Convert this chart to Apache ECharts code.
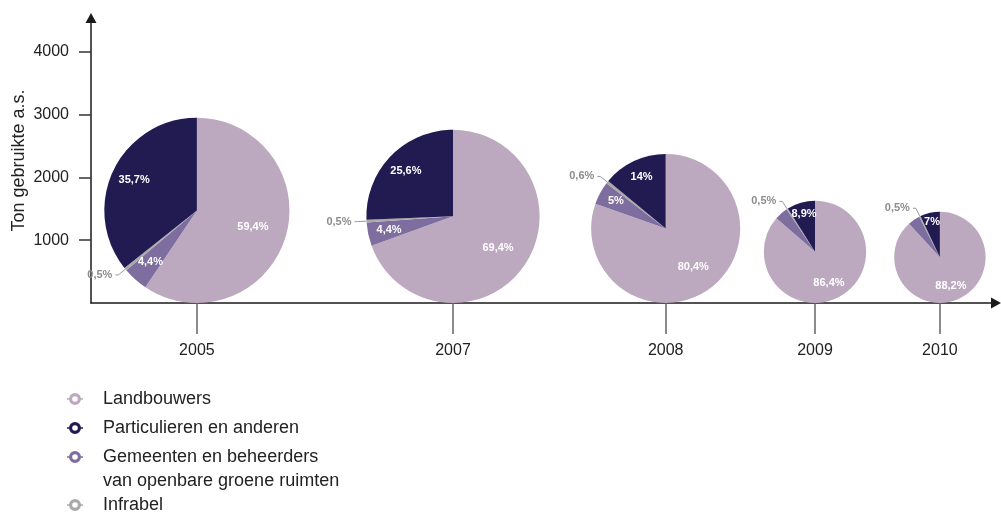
<!DOCTYPE html>
<html>
<head>
<meta charset="utf-8">
<script src="https://cdn.jsdelivr.net/npm/echarts@6/dist/echarts.min.js"></script>
<style>
  html, body { margin: 0; padding: 0; background: #fff; }
  #chart { width: 1001px; height: 517px; }
</style>
</head>
<body>
<div id="chart"></div>
<script>
var years = ['2005', '2007', '2008', '2009', '2010'];
// total tonnage per year = diameter of the pie on the y scale
var totals = [2950, 2760, 2375, 1630, 1455];
// shares in %
var landbouwers = [59.4, 69.4, 80.4, 86.4, 88.2];
var gemeenten = [4.4, 4.4, 5, 4.2, 4.3];
var infrabel = [0.5, 0.5, 0.6, 0.5, 0.5];
var particulieren = [35.7, 25.6, 14, 8.9, 7];
var yTicks = [1000, 2000, 3000, 4000];

var names = ['Landbouwers', 'Particulieren en anderen',
  'Gemeenten en beheerders van openbare groene ruimten', 'Infrabel'];
var colors = ['#bda9bf', '#221b51', '#7e6e9f', '#a9a9a9'];

// where each year sits along the x axis (0..100)
var yearSlot = [11.7, 40, 63.5, 80, 93.8];

var font = "'Liberation Sans', Arial, Helvetica, sans-serif";
var ring = 'path://M2,6 A6,6 0 1,1 14,6 A6,6 0 1,1 2,6 Z M5.2,6 A2.8,2.8 0 1,0 10.8,6 A2.8,2.8 0 1,0 5.2,6 Z M0,5.2 L2.4,5.2 L2.4,6.8 L0,6.8 Z M13.6,5.2 L16,5.2 L16,6.8 L13.6,6.8 Z';

function pct(v) { return String(v).replace('.', ',') + '%'; }

var chart = echarts.init(document.getElementById('chart'));

chart.setOption({
  animation: false,
  textStyle: { fontFamily: font },
  grid: { left: 91, right: 5, top: 18, bottom: 214, containLabel: false, outerBoundsMode: 'none' },
  xAxis: {
    type: 'value', min: 0, max: 100,
    splitLine: { show: false },
    axisLine: { show: true, symbol: ['none', 'triangle'], symbolSize: [11, 10],
      lineStyle: { color: '#1a1a1a', width: 1.5 } },
    axisTick: { show: true, customValues: yearSlot, length: 31,
      lineStyle: { color: '#666', width: 1.5 } },
    axisLabel: {
      customValues: yearSlot, margin: 40, fontSize: 16, color: '#222',
      formatter: function (v) {
        for (var k = 0; k < yearSlot.length; k++) {
          if (Math.abs(yearSlot[k] - v) < 1e-6) return years[k];
        }
        return '';
      }
    }
  },
  yAxis: {
    type: 'value', min: 0, max: 4540,
    splitLine: { show: false },
    axisLine: { show: true, symbol: ['none', 'triangle'], symbolSize: [11, 10],
      lineStyle: { color: '#1a1a1a', width: 1.5 } },
    axisTick: { show: true, customValues: yTicks, length: 12,
      lineStyle: { color: '#333', width: 1.5 } },
    axisLabel: { customValues: yTicks, margin: 22, fontSize: 16, color: '#222',
      formatter: function (v) { return String(v); } },
    name: 'Ton gebruikte a.s.', nameLocation: 'middle', nameRotate: 90, nameGap: 63,
    nameMoveOverlap: false,
    nameTextStyle: { fontSize: 18, color: '#222' }
  }
});

function legendItem(k) {
  return { name: names[k], icon: ring, itemStyle: { color: colors[k], borderWidth: 0 } };
}
var legendBase = {
  orient: 'vertical', left: 62, itemWidth: 16, itemHeight: 12, itemGap: 9,
  selectedMode: false,
  textStyle: { fontSize: 18, lineHeight: 20, color: '#222', padding: [0, 0, 0, 15] },
  formatter: function (n) { return n === names[2] ? 'Gemeenten en beheerders' : n; }
};

var slices = [];
var labels = [];
years.forEach(function (y, i) {
  var c = chart.convertToPixel({ gridIndex: 0 }, [yearSlot[i], totals[i] / 2]);
  var r = chart.convertToPixel({ yAxisIndex: 0 }, 0) - chart.convertToPixel({ yAxisIndex: 0 }, totals[i]);
  r = r / 2;
  // clockwise from 12 o'clock: Landbouwers, Gemeenten, Infrabel, Particulieren
  var vals = [[0, landbouwers[i]], [2, gemeenten[i]], [3, infrabel[i]], [1, particulieren[i]]];

  slices.push({
    type: 'pie', id: 'pie' + y, center: c, radius: r,
    startAngle: 90, clockwise: true, avoidLabelOverlap: false, silent: true,
    emphasis: { disabled: true },
    itemStyle: { borderWidth: 0 },
    label: { show: false }, labelLine: { show: false },
    data: vals.map(function (p) {
      var d = { name: names[p[0]], value: p[1], itemStyle: { color: colors[p[0]] } };
      if (p[0] === 3) {
        d.label = { show: true, position: 'outside', formatter: function (q) { return pct(q.value); },
          color: '#8c8c8c', fontSize: 11, fontWeight: 'bold', distanceToLabelLine: 3 };
        d.labelLine = { show: true, length: 9, length2: 3, lineStyle: { color: '#999', width: 1 } };
      }
      return d;
    })
  });

  [[0.48, 0.72, [0]], [0.58, 0.86, [1, 2]]].forEach(function (g, gi) {
    labels.push({
      type: 'pie', id: 'lab' + gi + y, center: c, radius: [r * g[0], r * g[1]],
      startAngle: 90, clockwise: true, avoidLabelOverlap: false, silent: true,
      emphasis: { disabled: true },
      itemStyle: { color: 'rgba(0,0,0,0)', borderWidth: 0 },
      labelLine: { show: false },
      data: vals.map(function (p) {
        return { name: names[p[0]], value: p[1],
          label: { show: g[2].indexOf(p[0]) >= 0, position: 'inside',
            formatter: function (q) { return pct(q.value); },
            color: '#fff', fontSize: 11, fontWeight: 'bold' } };
      })
    });
  });
});

chart.setOption({
  legend: [
    Object.assign({}, legendBase, { top: 384, data: [legendItem(0), legendItem(1), legendItem(2)] }),
    Object.assign({}, legendBase, { top: 490, data: [legendItem(3)] })
  ],
  graphic: [{
    type: 'text', x: 103, y: 481,
    style: { text: 'van openbare groene ruimten', fontSize: 18, fill: '#222',
      fontFamily: font, verticalAlign: 'middle' }
  }],
  series: slices.concat(labels)
});
</script>
</body>
</html>
